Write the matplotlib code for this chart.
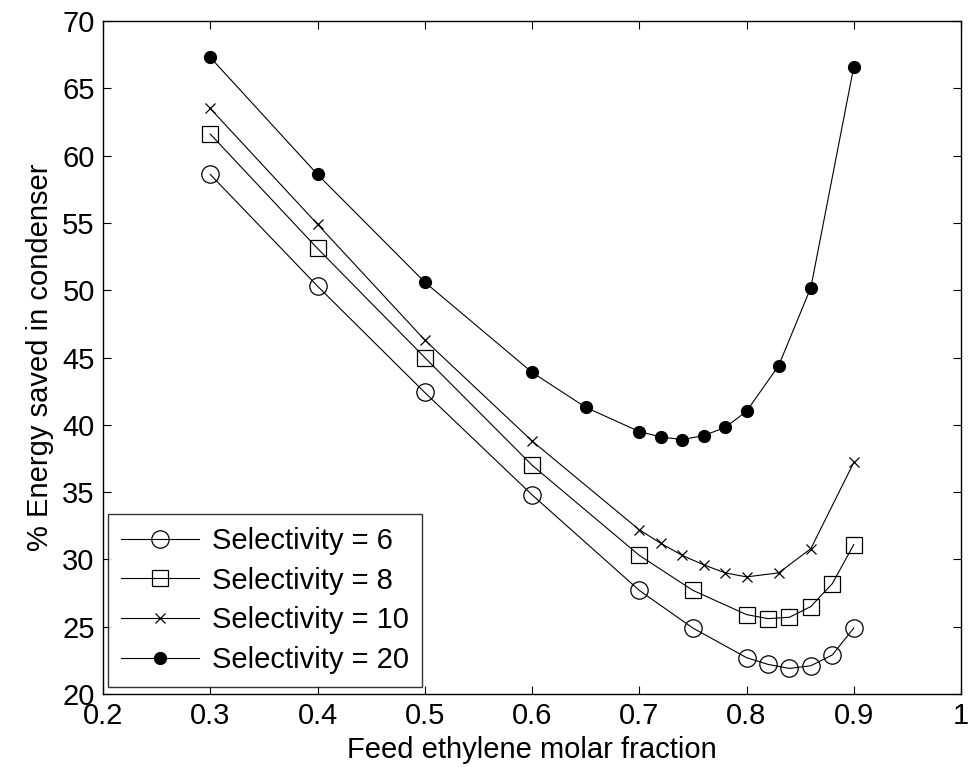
import matplotlib
matplotlib.use("Agg")
import matplotlib.pyplot as plt

plt.rcParams['font.family'] = ['Liberation Sans', 'DejaVu Sans']

x6 = [0.3, 0.4, 0.5, 0.6, 0.7, 0.75, 0.8, 0.82, 0.84, 0.86, 0.88, 0.9]
y6 = [58.6, 50.3, 42.4, 34.8, 27.7, 24.9, 22.7, 22.2, 21.9, 22.1, 22.9, 24.9]

x8 = [0.3, 0.4, 0.5, 0.6, 0.7, 0.75, 0.8, 0.82, 0.84, 0.86, 0.88, 0.9]
y8 = [61.6, 53.1, 45.0, 37.0, 30.3, 27.7, 25.9, 25.6, 25.7, 26.5, 28.2, 31.1]

x10 = [0.3, 0.4, 0.5, 0.6, 0.7, 0.72, 0.74, 0.76, 0.78, 0.8, 0.83, 0.86, 0.9]
y10 = [63.5, 54.9, 46.3, 38.8, 32.2, 31.2, 30.3, 29.6, 29.0, 28.7, 29.0, 30.8, 37.2]

x20 = [0.3, 0.4, 0.5, 0.6, 0.65, 0.7, 0.72, 0.74, 0.76, 0.78, 0.8, 0.83, 0.86, 0.9]
y20 = [67.3, 58.6, 50.6, 43.9, 41.3, 39.5, 39.1, 38.9, 39.2, 39.8, 41.0, 44.4, 50.2, 66.6]

labels = ['Selectivity = 6', 'Selectivity = 8', 'Selectivity = 10', 'Selectivity = 20']
xticks = [0.2, 0.3, 0.4, 0.5, 0.6, 0.7, 0.8, 0.9, 1.0]
xticklabels = ['0.2', '0.3', '0.4', '0.5', '0.6', '0.7', '0.8', '0.9', '1']
yticks = [20, 25, 30, 35, 40, 45, 50, 55, 60, 65, 70]

fig = plt.figure(figsize=(9.72, 7.81), dpi=100)
ax = fig.add_axes([0.106, 0.1114, 0.8827, 0.8617])

lw = 0.8
ax.plot(x6, y6, '-', color='black', lw=lw, marker='o', markersize=12.5,
        markerfacecolor='none', markeredgecolor='black', markeredgewidth=0.9, label=labels[0])
ax.plot(x8, y8, '-', color='black', lw=lw, marker='s', markersize=12,
        markerfacecolor='none', markeredgecolor='black', markeredgewidth=0.9, label=labels[1])
ax.plot(x10, y10, '-', color='black', lw=lw, marker='x', markersize=6.5,
        markeredgewidth=0.9, label=labels[2])
ax.plot(x20, y20, '-', color='black', lw=lw, marker='o', markersize=8.5,
        markerfacecolor='black', markeredgecolor='black', label=labels[3])

ax.set_xlim(0.2, 1.0)
ax.set_ylim(20, 70)
ax.set_xticks(xticks)
ax.set_xticklabels(xticklabels)
ax.set_yticks(yticks)
ax.tick_params(direction='in', length=6, width=0.8, labelsize=21,
               top=True, right=True, pad=6)
for s in ax.spines.values():
    s.set_linewidth(1.0)

ax.set_xlabel('Feed ethylene molar fraction', fontsize=21, labelpad=4)
ax.set_ylabel('% Energy saved in condenser', fontsize=21, labelpad=6)

leg = ax.legend(loc='lower left', bbox_to_anchor=(0.006, 0.0104), borderaxespad=0,
                fontsize=21, fancybox=False, frameon=True, handlelength=2.65,
                handletextpad=0.45, labelspacing=0.4, borderpad=0.45)
leg.get_frame().set_edgecolor('black')
leg.get_frame().set_linewidth(1.0)

fig.savefig('out.png', dpi=100, facecolor='white')
